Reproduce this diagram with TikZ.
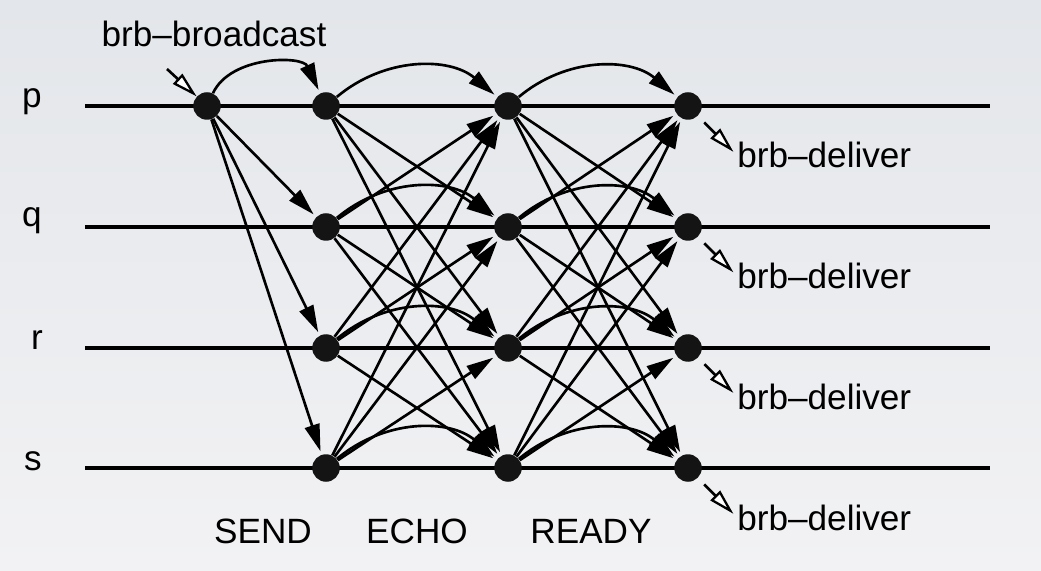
\documentclass[tikz,border=0pt]{standalone}
\usepackage{fontspec}
\setmainfont{Liberation Sans}
\usetikzlibrary{arrows.meta}
\definecolor{fundotopo}{RGB}{227,230,234}
\definecolor{fundobase}{RGB}{242,242,244}

\begin{document}
\begin{tikzpicture}
\tikzset{
    >={Triangle[length=0.54cm, width=0.3cm]},
    linha/.style={line width=1.8pt},
    msg/.style={->, line width=1.5pt, shorten >=2pt},
    curva/.style={msg, bend left=40},
    evento/.style={line width=1.5pt,
                   -{Triangle[open, fill=white, length=0.52cm, width=0.27cm, line width=1.3pt]}},
    ponto/.style={circle, fill=black!92, inner sep=0pt, minimum size=0.55cm},
    rotulo/.style={font=\fontsize{20}{24}\selectfont, inner sep=0pt, anchor=base}
}
\shade[top color=fundotopo, bottom color=fundobase] (0,0) rectangle (20.82,11.4);
\useasboundingbox (0,0) rectangle (20.82,11.4);
% linhas dos processos
\foreach \n/\y in {p/9.28, q/6.86, r/4.44, s/2.04} {
    \coordinate (\n a) at (1.7,\y);
    \coordinate (\n b) at (19.8,\y);
    \draw[linha] (\n a) -- (\n b);
}
\node[rotulo] (lp) at (0.64, 9.24) {p};
\node[rotulo] (lq) at (0.64, 6.86) {q};
\node[rotulo] (lr) at (0.74, 4.40) {r};
\node[rotulo] (ls) at (0.66, 2.00) {s};
% eventos
\node[ponto] (p0) at (4.14, 9.28) {};
\foreach \n/\y in {p/9.28, q/6.86, r/4.44, s/2.04} {
    \node[ponto] (\n1) at (6.52, \y) {};
    \node[ponto] (\n2) at (10.16, \y) {};
    \node[ponto] (\n3) at (13.76, \y) {};
}
% SEND
\draw[msg] (p0) to[bend left=65] (p1);
\foreach \n in {q,r,s}
    \draw[msg] (p0) -- (\n1);
% ECHO e READY
\foreach \a in {p,q,r,s} {
    \foreach \b in {p,q,r,s} {
        \ifx\a\b
            \draw[curva] (\a1) to (\b2);
            \draw[curva] (\a2) to (\b3);
        \else
            \draw[msg] (\a1) -- (\b2);
            \draw[msg] (\a2) -- (\b3);
        \fi
    }
}
% broadcast e deliver
\node[rotulo] (bcast) at (4.28, 10.46) {brb--broadcast};
\coordinate (bc) at (3.34, 10.02);
\draw[evento] (bc) -- (p0);
\foreach \n/\y in {p/8.04, q/5.63, r/3.22, s/0.80} {
    \node[rotulo, anchor=base west] (d\n) at (14.74, \y) {brb--deliver};
    \draw[evento, shorten <=0.18cm, shorten >=0.1cm] (\n3) -- (d\n.west);
}
% fases
\node[rotulo] (send)  at (5.26, 0.54)  {SEND};
\node[rotulo] (echo)  at (8.34, 0.54)  {ECHO};
\node[rotulo] (ready) at (11.82, 0.54) {READY};
\end{tikzpicture}
\end{document}
